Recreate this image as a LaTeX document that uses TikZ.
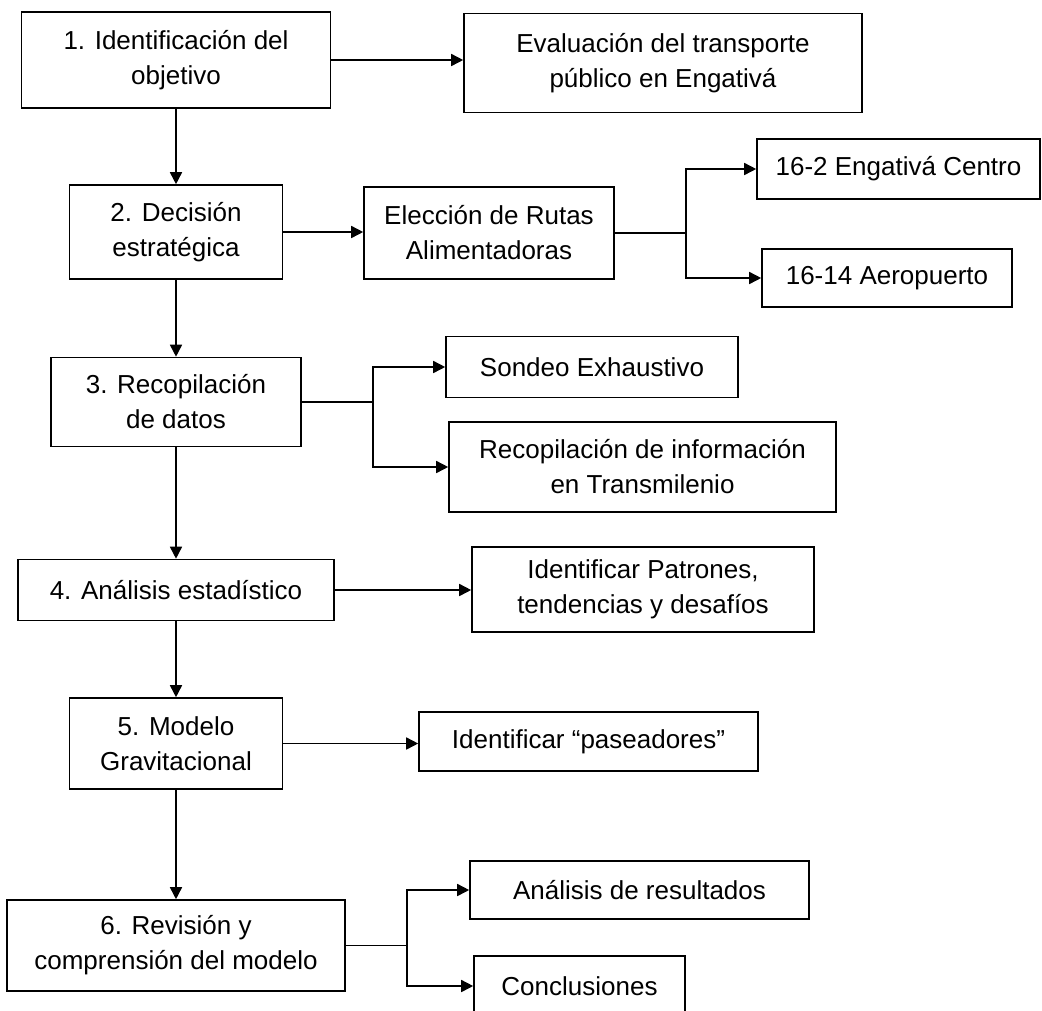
\documentclass[tikz,border=0pt]{standalone}
\usepackage{fontspec}
\setmainfont{Liberation Sans}
\usepackage{tikz}
\usetikzlibrary{arrows.meta, positioning}

\begin{document}
\begin{tikzpicture}[
        x=1pt, y=-1pt, >=Triangle,
        font=\fontsize{26}{35}\selectfont,
        box/.style={draw, line width=1.6pt, align=center, inner sep=0pt},
        a/.style={-{Triangle[length=12pt, width=12pt]}, line width=1.6pt},
        ln/.style={line width=1.6pt},
      ]
        \useasboundingbox (0,0) rectangle (1042,1010);
        \clip (0,0) rectangle (1042,1010);
        % pasos principales
        \node[box, minimum width=309, minimum height=96] (obj) at (176,60)    {1. Identificación del\\objetivo};
        \node[box, minimum width=213, minimum height=94] (dec) at (176,232)   {2. Decisión\\estratégica};
        \node[box, minimum width=250, minimum height=89] (rec) at (176,402)   {3. Recopilación\\de datos};
        \node[box, minimum width=316, minimum height=61] (ana) at (176,590)   {4. Análisis estadístico};
        \node[box, minimum width=213, minimum height=91] (mod) at (176,743.5) {5. Modelo\\Gravitacional};
        \node[box, minimum width=338, minimum height=91] (rev) at (176,945.5) {6. Revisión y\\comprensión del modelo};
        % resultados de cada paso
        \node[box, minimum width=398, minimum height=99] (eval) at (663,63)    {Evaluación del transporte\\público en Engativá};
        \node[box, minimum width=250, minimum height=92] (rut)  at (489,233)   {Elección de Rutas\\Alimentadoras};
        \node[box, minimum width=283, minimum height=60] (ctr)  at (898.5,169) {16-2 Engativá Centro};
        \node[box, minimum width=250, minimum height=58] (aer)  at (887,278)   {16-14 Aeropuerto};
        \node[box, minimum width=292, minimum height=61] (son)  at (592,367)   {Sondeo Exhaustivo};
        \node[box, minimum width=387, minimum height=90] (tms)  at (642.5,467) {Recopilación de información\\en Transmilenio};
        \node[box, minimum width=342, minimum height=85] (pat)  at (643,589.5) {Identificar Patrones,\\tendencias y desafíos};
        \node[box, minimum width=339, minimum height=59] (pas)  at (588.5,741.5) {Identificar “paseadores”};
        \node[box, minimum width=339, minimum height=58] (res)  at (639.5,890) {Análisis de resultados};
        \node[box, minimum width=211, minimum height=60] (con)  at (579.5,986) {Conclusiones};
        % flujo vertical
        \draw[a] (obj) -- (dec);
        \draw[a] (dec) -- (rec);
        \draw[a] (rec) -- (ana);
        \draw[a] (ana) -- (mod);
        \draw[a] (mod) -- (rev);
        % flujo horizontal
        \draw[a] (obj.east) -- (obj.east -| eval.west);
        \draw[a] (dec.east) -- (dec.east -| rut.west);
        \draw[a] (ana.east) -- (ana.east -| pat.west);
        \draw[a] (mod.east) -- (mod.east -| pas.west);
        % ramificaciones
        \coordinate (j2) at (686,233);
        \coordinate (j3) at (373,402);
        \coordinate (j6) at (407,945.5);
        \draw[ln] (rut.east) -- (j2);
        \draw[a] (j2) |- (ctr.west);
        \draw[a] (j2) |- (aer.west);
        \draw[ln] (rec.east) -- (j3);
        \draw[a] (j3) |- (son.west);
        \draw[a] (j3) |- (tms.west);
        \draw[ln] (rev.east) -- (j6);
        \draw[a] (j6) |- (res.west);
        \draw[a] (j6) |- (con.west);
\end{tikzpicture}
\end{document}
